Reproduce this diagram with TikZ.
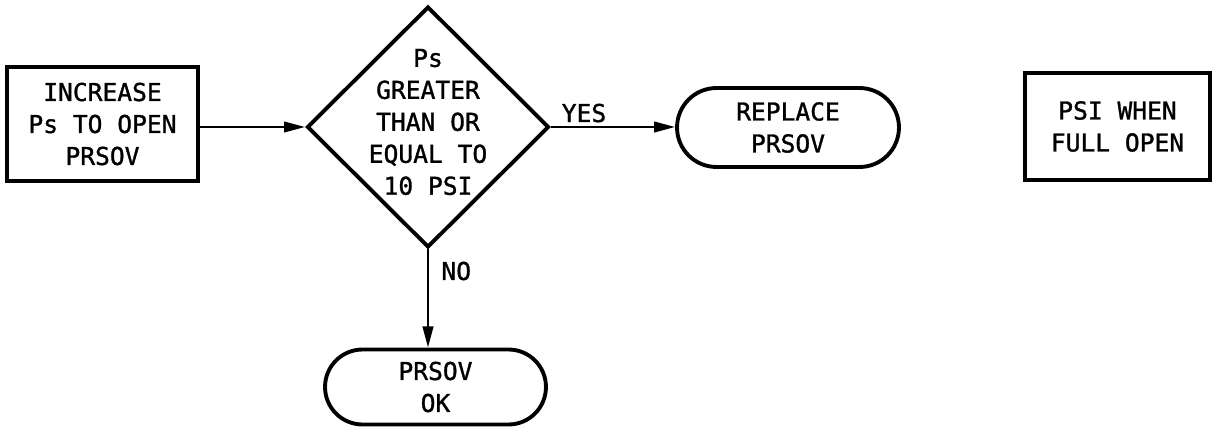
\documentclass[tikz,border=0pt]{standalone}
\usepackage{fontspec}
\newfontfamily\chartfont[FakeBold=1.2]{DejaVu Sans Mono}
\usetikzlibrary{shapes.geometric,shapes.misc,arrows.meta}

\begin{document}
\begin{tikzpicture}[x=0.02cm, y=-0.02cm,
    every node/.style={font=\chartfont\fontsize{14}{18.2}\selectfont, align=center},
    procbox/.style={draw, line width=2.2pt, inner sep=0pt},
    decision/.style={draw, diamond, line width=2.2pt, inner sep=0pt, minimum width=4.84cm, minimum height=4.82cm},
    terminal/.style={draw, rounded rectangle, line width=2.2pt, inner sep=0pt},
    flow/.style={-{Triangle[length=12pt, width=6pt]}, line width=1.3pt}]
    \useasboundingbox (0,0) rectangle (1214,429);
    \node[procbox, minimum width=3.82cm, minimum height=2.28cm] (incr) at (102.5,124) {INCREASE\\Ps TO OPEN\\PRSOV};
    \node[decision] (dec) at (428,127) {};
    \node (dectext) at (428,122) {Ps\\GREATER\\THAN OR\\EQUAL TO\\10 PSI};
    \node[terminal, minimum width=4.44cm, minimum height=1.58cm] (repl) at (788,127.5) {REPLACE\\PRSOV};
    \node[terminal, minimum width=4.42cm, minimum height=1.5cm] (ok) at (435.5,387) {PRSOV\\OK};
    \node[procbox, minimum width=3.7cm, minimum height=2.14cm] (full) at (1117.5,126.5) {PSI WHEN\\FULL OPEN};
    \draw[flow] (incr.east |- dec.west) -- (dec.west);
    \draw[flow] (dec.east) -- (dec.east -| repl.west) node[pos=0.05, above right, inner sep=2pt] (yes) {YES};
    \draw[flow] (dec.south) -- (dec.south |- ok.north) node[pos=0.22, right, inner sep=7pt] (no) {NO};
\end{tikzpicture}
\end{document}
